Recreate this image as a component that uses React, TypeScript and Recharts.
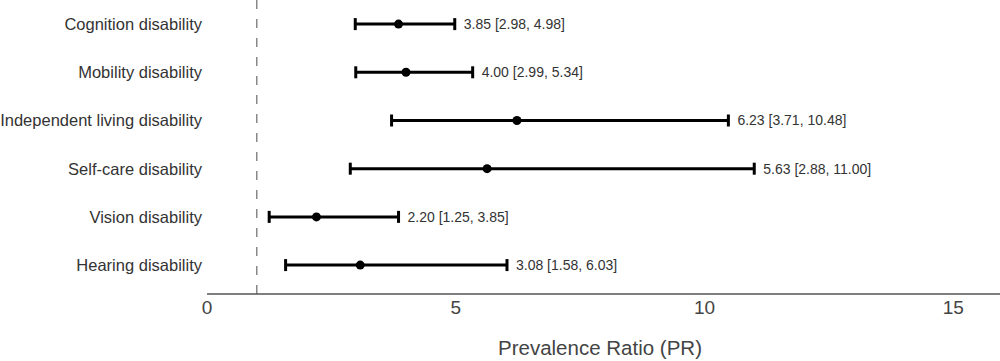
import { ErrorBar, ReferenceLine, Scatter, ScatterChart, XAxis, YAxis } from "recharts";

// rows listed top to bottom
const categories = [
  "Cognition disability",
  "Mobility disability",
  "Independent living disability",
  "Self-care disability",
  "Vision disability",
  "Hearing disability",
];
const prValues = [3.85, 4.0, 6.23, 5.63, 2.2, 3.08];
const ciLow = [2.98, 2.99, 3.71, 2.88, 1.25, 1.58];
const ciHigh = [4.98, 5.34, 10.48, 11.0, 3.85, 6.03];
const xTicks = [0, 5, 10, 15];

const rows = categories.map((name, i) => ({
  name,
  y: categories.length - i,
  pr: prValues[i],
  hi: ciHigh[i],
  err: [prValues[i] - ciLow[i], ciHigh[i] - prValues[i]],
  text: `${prValues[i].toFixed(2)} [${ciLow[i].toFixed(2)}, ${ciHigh[i].toFixed(2)}]`,
}));

const nameAt = (v: number) => categories[categories.length - v] ?? "";

// draws the "PR [lo, hi]" text just right of the upper CI cap
const CiText = (props: any) => {
  const { cx, cy, payload } = props;
  return (
    <text x={cx + 9} y={cy} dominantBaseline="central" fontSize={14} fill="#333" fontFamily="'Liberation Sans', Arial, sans-serif">
      {payload.text}
    </text>
  );
};

export default function App() {
  return (
    <div style={{ position: "absolute", left: 0, top: 0, width: 1000, height: 361, overflow: "hidden", background: "#fff" }}>
      <ScatterChart
        width={1010}
        height={361}
        margin={{ top: 0, right: 7, bottom: 0, left: 0 }}
        style={{ fontFamily: "'Liberation Sans', Arial, sans-serif" }}
      >
        <XAxis
          type="number"
          dataKey="pr"
          domain={[0, 16]}
          ticks={xTicks}
          tickLine={false}
          tickMargin={1}
          axisLine={{ stroke: "#555", strokeWidth: 1.5 }}
          tick={{ fontSize: 19, fill: "#444" }}
          height={67}
          label={{ value: "Prevalence Ratio (PR)", position: "insideBottom", offset: 6, dx: -5, fontSize: 20.5, fill: "#444" }}
        />
        <YAxis
          type="number"
          dataKey="y"
          domain={[0.4, 6.5]}
          ticks={[1, 2, 3, 4, 5, 6]}
          tickFormatter={nameAt}
          axisLine={false}
          tickLine={false}
          tickSize={5}
          tickMargin={0}
          width={207}
          tick={{ fontSize: 16.5, fill: "#333" }}
        />
        <ReferenceLine x={1} stroke="#888" strokeWidth={1.5} strokeDasharray="9 10" />
        <Scatter data={rows} dataKey="pr" fill="#000" isAnimationActive={false} shape={(p: any) => <circle cx={p.cx} cy={p.cy} r={4.5} fill="#000" />}>
          <ErrorBar dataKey="err" direction="x" width={6} stroke="#000" strokeWidth={3} isAnimationActive={false} />
        </Scatter>
        <Scatter data={rows.map((r) => ({ ...r, pr: r.hi }))} dataKey="pr" isAnimationActive={false} shape={CiText} />
      </ScatterChart>
    </div>
  );
}
